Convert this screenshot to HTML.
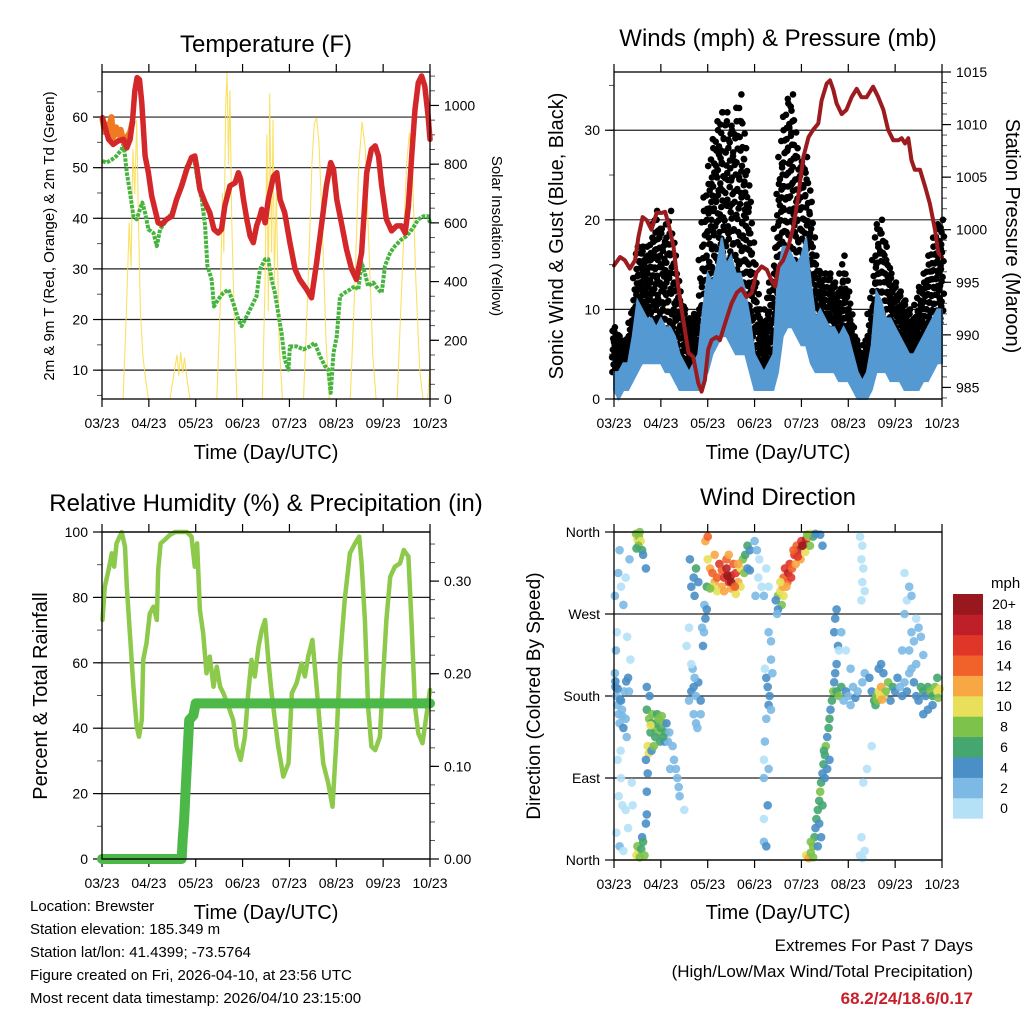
<!DOCTYPE html>
<html><head><meta charset="utf-8"><style>
html,body{margin:0;padding:0;background:#fff;}
svg{display:block;font-family:"Liberation Sans",sans-serif;}
</style></head><body>
<svg id="chart" width="1024" height="1024" viewBox="0 0 1024 1024" xmlns="http://www.w3.org/2000/svg">
<rect width="1024" height="1024" fill="#fff"/>
<text x="266" y="52" font-size="24" text-anchor="middle">Temperature (F)</text>
<text x="778" y="46" font-size="24" text-anchor="middle">Winds (mph) &amp; Pressure (mb)</text>
<text x="266" y="511" font-size="24" text-anchor="middle">Relative Humidity (%) &amp; Precipitation (in)</text>
<text x="778" y="505" font-size="24" text-anchor="middle">Wind Direction</text>
<text transform="translate(54,236) rotate(-90)" font-size="15" text-anchor="middle">2m &amp; 9m T (Red, Orange) &amp; 2m Td (Green)</text>
<text transform="translate(492,236) rotate(90)" font-size="15" text-anchor="middle">Solar Insolation (Yellow)</text>
<text transform="translate(563,236) rotate(-90)" font-size="20" text-anchor="middle">Sonic Wind &amp; Gust (Blue, Black)</text>
<text transform="translate(1006,236) rotate(90)" font-size="20" text-anchor="middle">Station Pressure (Maroon)</text>
<text transform="translate(47,696) rotate(-90)" font-size="20" text-anchor="middle">Percent &amp; Total Rainfall</text>
<text transform="translate(540,696) rotate(-90)" font-size="19" text-anchor="middle">Direction (Colored By Speed)</text>
<text x="266" y="459" font-size="20" text-anchor="middle">Time (Day/UTC)</text>
<text x="778" y="459" font-size="20" text-anchor="middle">Time (Day/UTC)</text>
<text x="266" y="919" font-size="20" text-anchor="middle">Time (Day/UTC)</text>
<text x="778" y="919" font-size="20" text-anchor="middle">Time (Day/UTC)</text>
<g font-size="15">
<text x="30" y="911">Location: Brewster</text>
<text x="30" y="934">Station elevation: 185.349 m</text>
<text x="30" y="957">Station lat/lon: 41.4399; -73.5764</text>
<text x="30" y="980">Figure created on Fri, 2026-04-10, at 23:56 UTC</text>
<text x="30" y="1003">Most recent data timestamp: 2026/04/10 23:15:00</text>
</g>
<g font-size="17" text-anchor="end">
<text x="973" y="951">Extremes For Past 7 Days</text>
<text x="973" y="977">(High/Low/Max Wind/Total Precipitation)</text>
<text x="973" y="1004" fill="#c8202a" font-weight="bold">68.2/24/18.6/0.17</text>
</g>
<text x="991" y="588" font-size="15">mph</text>
</svg>
<script>
// ---------- DATA ----------
const xTickLabels = ["03/23","04/23","05/23","06/23","07/23","08/23","09/23","10/23"];
const tempTimes = [0.01,0.06,0.14,0.24,0.35,0.46,0.53,0.60,0.65,0.70,0.75,0.80,0.85,0.92,0.99,1.06,1.13,1.20,1.27,1.38,1.49,1.59,1.70,1.81,1.91,1.98,2.03,2.09,2.20,2.30,2.39,2.48,2.55,2.62,2.73,2.84,2.91,2.96,3.02,3.09,3.16,3.23,3.30,3.37,3.41,3.48,3.55,3.66,3.73,3.80,3.90,4.01,4.12,4.22,4.37,4.47,4.58,4.69,4.79,4.88,4.94,5.01,5.11,5.22,5.33,5.43,5.54,5.65,5.75,5.83,5.90,5.97,6.07,6.18,6.29,6.39,6.47,6.54,6.61,6.68,6.75,6.82,6.89,6.96,7.00];
const tempRed = [59.9,58.2,55.6,54.6,55.3,55.6,53.9,55.6,59.2,65.1,67.8,67.4,62.8,52.3,49.0,44.4,41.8,39.1,38.8,39.8,40.4,43.7,46.4,49.7,52.0,52.3,49.7,45.7,43.1,41.1,37.8,37.1,37.8,42.4,46.4,47.0,49.0,47.7,43.7,39.8,36.5,35.2,38.5,40.4,41.8,39.1,43.7,48.3,49.0,43.7,41.1,35.2,29.9,27.9,25.9,24.3,31.2,39.1,46.4,51.0,49.7,43.7,39.1,33.8,29.9,27.9,33.2,49.0,53.6,54.3,52.3,46.4,39.8,37.5,38.5,38.5,37.1,42.4,52.3,61.5,66.8,68.1,66.1,60.2,55.6];
const tempOrangeTimes = [0.01,0.06,0.10,0.14,0.20,0.24,0.30,0.35,0.40,0.46,0.53,0.60,0.65];
const tempOrange = [59.5,57.0,58.5,57.5,60.0,56.0,58.0,56.5,57.5,55.0,56.0,57.0,59.0];
const dewTimes = [0.01,0.10,0.21,0.31,0.42,0.46,0.49,0.53,0.60,0.67,0.74,0.81,0.86,0.92,0.99,1.10,1.17,1.24,1.34,1.49,1.59,1.70,1.81,1.91,1.98,2.06,2.13,2.20,2.25,2.34,2.39,2.48,2.59,2.70,2.80,2.91,2.98,3.09,3.19,3.30,3.37,3.48,3.55,3.62,3.69,3.76,3.83,3.90,3.98,4.01,4.15,4.30,4.44,4.54,4.65,4.76,4.83,4.88,4.94,5.01,5.08,5.18,5.29,5.40,5.47,5.54,5.61,5.68,5.79,5.90,5.97,6.04,6.15,6.25,6.39,6.50,6.64,6.75,6.86,6.96,7.00];
const dewVals = [51.3,51.0,51.6,52.3,53.6,54.9,52.3,49.0,45.0,40.4,39.8,41.8,43.1,41.1,37.8,37.1,34.5,37.8,39.1,41.1,43.7,47.0,50.3,51.6,51.0,46.4,43.7,38.5,30.6,27.9,22.6,24.0,25.3,25.9,23.3,20.0,18.7,20.7,22.6,24.6,29.9,31.9,31.9,27.9,25.3,21.3,17.4,12.1,10.1,14.7,14.7,14.1,14.7,15.4,12.8,10.8,10.1,5.5,13.4,16.7,24.6,25.3,25.9,26.6,25.9,31.2,29.2,26.6,27.3,25.9,25.3,30.6,33.2,34.5,35.8,36.5,38.1,39.8,40.4,40.4,39.1];
const solarTimes = [0.00,0.45,0.52,0.58,0.62,0.66,0.70,0.74,0.78,0.82,0.87,0.92,0.99,1.45,1.55,1.60,1.64,1.68,1.72,1.76,1.82,1.88,2.45,2.52,2.57,2.60,2.64,2.67,2.70,2.73,2.77,2.82,2.88,3.42,3.48,3.52,3.55,3.58,3.62,3.65,3.68,3.72,3.78,3.85,4.30,4.40,4.48,4.53,4.58,4.63,4.70,4.78,4.85,5.30,5.40,5.48,5.55,5.62,5.70,5.78,5.85,6.30,6.40,6.50,6.56,6.62,6.70,6.78,6.85,6.95,7.00];
const solarVals = [0,0,300,600,450,850,700,950,600,300,150,80,0,0,100,150,80,160,90,140,60,0,0,300,700,500,1000,1110,800,1050,600,300,0,0,400,900,300,1040,500,950,400,700,200,0,0,400,800,940,957,880,600,200,0,0,400,800,944,850,500,150,0,0,400,800,905,800,400,100,0,0,120];
const pressTimes = [0,0.13,0.23,0.34,0.45,0.52,0.61,0.70,0.80,0.91,1.02,1.09,1.16,1.27,1.37,1.48,1.59,1.69,1.80,1.87,1.94,2.01,2.08,2.19,2.26,2.37,2.51,2.62,2.72,2.83,2.94,3.04,3.15,3.26,3.36,3.44,3.51,3.61,3.72,3.83,3.93,4.04,4.15,4.25,4.36,4.43,4.54,4.61,4.68,4.75,4.86,4.96,5.07,5.18,5.28,5.39,5.53,5.64,5.75,5.85,5.96,6.07,6.14,6.21,6.28,6.35,6.42,6.53,6.64,6.74,6.85,6.92,7.00];
const pressVals = [996.6,997.4,997.1,996.3,997.1,999.3,1001.2,1000.9,1000.0,1001.6,1001.6,1001.7,1000.6,998.4,994.6,991.4,988.3,987.9,985.4,984.6,985.7,988.6,989.5,989.8,989.5,991.1,993.0,994.0,994.4,993.6,994.0,995.9,996.5,996.2,995.2,994.6,996.5,997.1,998.4,1000.3,1003.1,1006.9,1008.8,1009.5,1010.1,1012.3,1013.9,1014.2,1013.3,1012.0,1011.0,1011.4,1012.6,1013.4,1012.6,1012.6,1013.6,1012.6,1011.4,1009.5,1008.5,1008.5,1008.7,1008.2,1008.7,1006.6,1005.7,1005.7,1004.1,1002.5,1000.0,997.8,997.4];
const windMax = [3,3,4,4,7,11,10,9,9,8,9,8,8,7,5,4,3,4,5,10,14,13,15,18,15,16,14,14,12,9,5,4,3,4,5,14,17,17,16,15,16,18,13,9,10,9,8,8,7,8,7,5,3,2,3,6,12,11,9,9,8,7,6,5,5,6,7,8,9,10,10];
const windMin = [1,0,1,1,2,3,4,4,4,4,4,3,3,2,1,1,1,1,1,2,3,5,6,7,7,6,5,5,5,3,1,1,1,1,1,3,7,8,8,7,6,6,4,3,3,3,3,3,2,2,2,1,0,0,0,1,3,3,3,2,2,2,1,1,1,1,2,2,3,4,4];
const gustMax = [8,7,6,7,10,17,17,16,18,21,19,18,21,16,12,10,9,9,10,21,24,28,30,32,32,30,31,34,28,22,15,10,8,12,14,24,30,33,34,28,26,27,22,16,14,14,14,13,12,16,12,8,6,5,7,12,19,20,17,14,13,12,11,10,9,12,13,15,17,19,20];
const gustMin = [3,3,3,3,5,7,8,8,8,8,7,7,6,4,3,2,2,2,2,5,8,12,14,15,14,13,13,15,13,8,3,2,2,3,3,10,15,17,17,14,12,10,8,6,6,5,5,5,4,4,4,2,1,1,1,3,7,6,5,4,4,3,3,2,2,3,4,5,6,8,9];
const rhTimes = [0.01,0.06,0.14,0.21,0.26,0.31,0.42,0.49,0.53,0.60,0.67,0.74,0.79,0.85,0.88,0.95,1.02,1.10,1.17,1.20,1.25,1.34,1.45,1.56,1.66,1.81,1.91,1.98,2.03,2.09,2.16,2.23,2.30,2.38,2.45,2.52,2.59,2.70,2.80,2.87,2.96,3.05,3.12,3.19,3.26,3.34,3.41,3.48,3.55,3.62,3.69,3.76,3.87,3.98,4.05,4.15,4.26,4.33,4.40,4.49,4.58,4.65,4.72,4.83,4.92,5.01,5.08,5.18,5.29,5.40,5.49,5.54,5.61,5.68,5.75,5.83,5.93,6.00,6.07,6.15,6.25,6.36,6.44,6.54,6.61,6.68,6.75,6.84,6.93,7.00];
const rhVals = [73.1,83.3,88.4,93.5,89.4,96.5,100,95.5,83.3,68.0,52.7,40.5,37.4,42.5,60.9,66.0,75.1,77.2,73.1,88.4,96.5,97.6,99.1,100,100,100,98.6,89.4,96.5,76.1,69.0,56.8,61.9,52.7,58.8,52.7,50.7,46.6,42.5,34.4,30.3,37.4,50.7,60.9,55.8,64.9,70.0,73.1,60.9,50.7,42.5,34.4,25.2,29.3,50.7,53.7,59.8,55.8,61.9,67.0,52.7,40.5,29.3,23.1,16.0,38.4,60.9,79.2,93.5,96.5,98.6,90.4,73.1,46.6,34.4,33.3,37.4,55.8,73.1,86.3,89.4,90.4,94.5,92.5,71.1,46.6,38.4,35.4,44.5,51.7];
const rainTimes = [0,1.70,1.72,1.75,1.78,1.82,1.86,1.95,2.00,7.00];
const rainVals = [0,0,0.02,0.04,0.07,0.11,0.15,0.155,0.168,0.168];
const dirTimes = [0.02,0.02,0.03,0.05,0.07,0.1,0.12,0.15,0.17,0.2,0.22,0.25,0.27,0.3,0.32,0.04,0.06,0.09,0.12,0.15,0.2,0.28,0.35,0.08,0.15,0.1,0.18,0.25,0.3,0.05,0.12,0.2,0.33,0.25,0.4,0.03,0.08,0.13,0.18,0.26,0.14,0.38,
0.47,0.5,0.53,0.57,0.52,0.6,0.62,0.68,0.48,0.55,0.48,0.52,0.55,0.5,0.58,0.6,0.65,0.7,0.68,0.62,
0.7,0.75,0.8,0.85,0.9,0.95,1.0,1.05,0.78,0.88,0.98,1.1,0.72,0.74,0.82,0.92,1.02,1.08,0.76,0.7,0.68,0.8,1.12,1.18,1.25,1.28,1.32,1.35,1.38,1.4,1.15,1.2,0.85,0.95,1.05,0.72,0.7,1.5,0.78,
1.6,1.65,1.7,1.75,1.8,1.85,1.7,1.75,1.72,1.68,1.9,1.92,1.95,1.93,1.88,1.98,1.65,1.7,1.75,1.8,1.55,1.6,1.65,1.85,1.78,1.62,1.72,
1.95,2.0,2.0,2.05,2.1,2.15,2.2,2.25,2.3,2.35,2.4,2.45,2.5,2.55,2.6,2.65,2.7,2.75,2.8,2.85,2.9,2.3,2.2,2.4,2.5,2.6,2.45,2.1,2.35,2.55,2.65,2.7,2.78,2.15,2.42,2.5,2.58,1.98,2.05,2.85,2.9,
3.0,3.05,3.1,3.08,3.15,3.2,3.25,3.3,3.02,3.3,3.35,3.35,3.25,3.28,3.32,3.3,3.35,3.25,3.22,3.2,3.2,3.3,3.28,3.2,3.25,3.2,3.38,3.22,
3.5,3.55,3.6,3.62,3.65,3.7,3.72,3.75,3.8,3.85,3.9,3.95,4.0,4.05,4.1,4.15,4.2,3.68,3.78,3.88,3.98,4.08,4.18,4.25,4.3,4.4,4.45,3.58,3.55,3.83,3.92,4.02,4.12,3.45,3.5,3.62,3.48,
4.1,4.15,4.2,4.25,4.28,4.3,4.32,4.35,4.38,4.4,4.42,4.45,4.47,4.5,4.52,4.55,4.58,4.6,4.62,4.65,4.68,4.7,4.72,4.75,4.2,4.25,4.38,4.45,4.5,4.55,4.48,4.6,4.42,4.35,4.7,4.72,4.75,4.78,4.8,
4.75,4.8,4.85,4.9,4.95,5.0,5.05,5.1,5.15,5.2,5.3,5.35,5.45,5.5,5.55,5.6,5.65,5.7,5.75,5.8,5.85,5.9,5.95,6.0,6.05,6.1,6.15,6.2,6.25,6.3,6.35,6.4,6.45,6.5,6.55,6.6,6.65,6.7,6.75,6.8,6.85,6.9,6.95,5.65,5.7,5.75,6.3,6.35,6.4,6.45,6.5,6.55,6.6,6.2,6.25,6.3,6.15,6.45,6.7,6.8,6.6,5.58,5.62,5.68,5.72,4.85,4.95,5.05,6.9,6.92,
5.25,5.3,5.28,5.32,5.3,5.35,5.28,5.25,5.3,5.35,5.28,5.32,5.4,6.2,6.35,5.5];
const dirDegrees = [290,205,190,180,170,160,150,175,165,145,185,155,135,200,185,230,250,315,340,300,280,245,220,110,90,70,60,55,35,30,15,10,330,310,60,196,188,176,158,196,120,85,
358,352,355,350,345,340,335,320,342,360,5,8,3,15,12,25,5,50,40,20,
165,155,150,145,150,140,145,150,140,135,130,140,125,117,160,160,158,130,180,190,110,120,150,140,125,110,100,90,80,70,130,100,125,155,135,95,75,55,148,
175,185,190,180,195,175,160,150,200,210,235,250,265,280,255,275,300,310,320,305,235,255,215,160,145,330,290,
350,355,330,320,315,305,310,325,318,310,320,305,312,300,315,305,320,330,335,345,340,300,295,330,298,292,335,300,295,325,325,300,315,335,312,305,300,300,298,320,318,
350,340,330,310,300,290,320,300,290,250,240,220,200,190,180,170,165,155,130,110,90,100,60,20,15,45,205,210,
290,295,300,310,320,305,315,325,320,335,345,340,350,345,352,355,358,300,310,325,330,338,345,355,358,357,345,280,305,340,333,345,357,285,275,290,270,
5,2,8,15,25,35,45,55,65,75,85,95,105,115,125,135,145,155,165,175,185,195,205,215,20,3,40,60,90,100,120,110,25,15,250,265,275,235,230,
185,180,190,175,185,180,170,190,178,185,195,205,200,185,175,180,185,190,180,185,195,175,190,185,200,190,180,195,185,205,210,195,180,175,190,185,180,190,185,180,190,185,188,210,215,205,230,250,240,265,255,245,225,270,285,300,230,215,165,170,160,170,175,180,176,250,230,210,200,178,
355,345,330,320,305,295,285,5,2,10,25,85,100,315,290,125];
const dirSpeeds = [2,2,4,2,2,2,2,4,2,4,2,2,2,4,2,2,0,2,2,0,2,0,0,0,0,0,0,0,0,0,2,0,2,0,0,4,4,4,2,4,0,0,
8,10,8,10,8,6,4,4,6,8,10,10,8,8,6,4,8,4,4,6,
6,8,6,8,6,8,6,8,6,6,6,6,10,10,8,6,8,4,4,4,4,4,4,2,2,2,2,2,2,2,2,2,8,8,6,4,4,0,10,
2,4,4,2,4,4,2,2,2,2,4,2,4,2,2,4,4,4,6,4,0,0,0,2,2,4,4,
12,14,10,12,14,12,14,16,14,16,18,16,18,14,16,12,10,8,6,6,4,12,10,14,12,10,12,10,12,14,12,10,8,12,20,20,14,6,8,4,4,
2,2,0,0,0,2,0,0,2,2,2,2,4,4,4,4,2,2,2,0,2,2,4,2,4,0,2,0,
8,10,12,14,16,14,18,16,14,16,14,18,16,14,18,12,10,12,16,12,12,10,8,6,4,4,4,8,10,14,16,20,8,4,4,10,2,
10,12,8,8,6,4,6,6,6,8,6,4,6,6,8,4,6,6,4,6,8,4,4,4,8,8,4,6,4,4,6,4,4,4,4,4,4,4,0,
6,8,6,2,4,2,2,2,4,2,2,2,4,4,6,8,10,12,10,8,8,4,6,4,4,2,4,2,4,2,2,4,4,4,6,6,4,6,8,6,8,10,10,4,4,4,2,2,2,0,2,2,2,2,0,2,2,2,4,4,4,6,8,10,12,2,0,2,6,8,
0,0,0,0,0,0,0,0,0,0,0,0,0,0,2,0];
const speedLabels = ["0","2","4","6","8","10","12","14","16","18","20+"];
const speedColors = ["#b5e1f7","#7cb9e5","#4a8fc6","#45a66f","#7dc24b","#e8e05a","#f7a744","#f0622a","#e0362a","#bf1f29","#98181d"];

// ---------- DRAWING ----------
const NS = "http://www.w3.org/2000/svg";
const svg = document.getElementById("chart");
function mk(tag, attrs, parent){
  const e = document.createElementNS(NS, tag);
  for (const k in attrs) e.setAttribute(k, attrs[k]);
  (parent || svg).appendChild(e);
  return e;
}
function lin(d0,d1,r0,r1){ return v => r0 + (v-d0)/(d1-d0)*(r1-r0); }

const P1 = {x0:102,x1:430,y0:72,y1:399};
const P2 = {x0:614,x1:942,y0:72,y1:399};
const P3 = {x0:102,x1:430,y0:532,y1:859};
const P4 = {x0:614,x1:942,y0:532,y1:860};

function xScale(p){ return lin(0,7,p.x0,p.x1); }

function polyline(xs, ys, xf, yf, style, name, parent){
  const pts = xs.map((t,i)=> xf(t).toFixed(1)+","+yf(ys[i]).toFixed(1)).join(" ");
  const el = mk("polyline", Object.assign({points:pts, fill:"none", "stroke-linejoin":"round","stroke-linecap":"round"}, style), parent);
  
  
  return el;
}

function axisFrame(p, name){
  const g = mk("g", {});
  
  
  const xf = xScale(p);
  xTickLabels.forEach((lab,i)=>{
    const x = xf(i);
    mk("line",{x1:x,x2:x,y1:p.y1,y2:p.y1+8,stroke:"#000","stroke-width":1.2},g);
    mk("line",{x1:x,x2:x,y1:p.y0,y2:p.y0-8,stroke:"#000","stroke-width":1.2},g);
    const t = mk("text",{x:x,y:p.y1+29,"font-size":14,"text-anchor":"middle"},g);
    t.textContent = lab;
    
    
  });
  return g;
}
function frameRect(p, g){
  mk("rect",{x:p.x0,y:p.y0,width:p.x1-p.x0,height:p.y1-p.y0,fill:"none",stroke:"#000","stroke-width":1.3},g);
}
function yAxis(p, scale, majors, minors, labels, side, g, grid){
  const x = side==="left" ? p.x0 : p.x1;
  const dir = side==="left" ? -1 : 1;
  minors.forEach(v=>{
    const y = scale(v);
    mk("line",{x1:x,x2:x+dir*5,y1:y,y2:y,stroke:"#555","stroke-width":1},g);
  });
  majors.forEach((v,i)=>{
    const y = scale(v);
    mk("line",{x1:x,x2:x+dir*9,y1:y,y2:y,stroke:"#000","stroke-width":1.2},g);
    if (grid) mk("line",{x1:p.x0,x2:p.x1,y1:y,y2:y,stroke:"#222","stroke-width":1.2},g);
    const t = mk("text",{x: side==="left"? x-14 : x+14, y:y+5,"font-size":14,"text-anchor": side==="left"?"end":"start"},g);
    t.textContent = labels[i];
    
    
  });
}
function range(a,b,s){ const r=[]; for(let v=a; v<=b+1e-9; v+=s) r.push(+v.toFixed(4)); return r; }

// ===== Panel 1: Temperature =====
(function(){
  const p=P1, xf=xScale(p);
  const yT = lin(4.3,68.9,p.y1,p.y0);
  const yS = lin(0,1114,p.y1,p.y0);
  const g = axisFrame(p,"temperature-panel");
  const maj=[10,20,30,40,50,60];
  yAxis(p,yT,maj,range(5,65,5),maj.map(String),"left",g,true);
  const smaj=[0,200,400,600,800,1000];
  yAxis(p,yS,smaj,range(0,1100,50),smaj.map(String),"right",g,false);
  polyline(solarTimes,solarVals,xf,yS,{stroke:"#f9dc4a","stroke-width":1.1,"stroke-opacity":0.85},"solar-insolation-line",g);
  polyline(dewTimes,dewVals,xf,yT,{stroke:"#48b440","stroke-width":4,"stroke-dasharray":"3.5,1.2","stroke-linecap":"butt"},"dewpoint-line",g);
  polyline(tempOrangeTimes,tempOrange,xf,yT,{stroke:"#f07a22","stroke-width":6},"temp-9m-line",g);
  polyline(tempTimes,tempRed,xf,yT,{stroke:"#d4272a","stroke-width":5.5},"temp-2m-line",g);
  frameRect(p,g);
})();

// ===== Panel 2: Winds & Pressure =====
(function(){
  const p=P2, xf=xScale(p);
  const yW = lin(0,36.5,p.y1,p.y0);
  const yP = lin(983.9,1015,p.y1,p.y0);
  const g = axisFrame(p,"winds-panel");
  const maj=[0,10,20,30];
  yAxis(p,yW,maj,range(0,35,5),maj.map(String),"left",g,true);
  const pmaj=[985,990,995,1000,1005,1010,1015];
  yAxis(p,yP,pmaj,range(984,1015,1),pmaj.map(String),"right",g,false);
  const wt = windMax.map((_,i)=>i/10);
  const fr = [0,0.08,0.17,0.25,0.33,0.42,0.5,0.58,0.67,0.75,0.83,0.92,1];
  const jx = [-1.6,1.2,-0.4,1.8,-1.9,0.6,-1.1,1.5,0,-0.8,1.9,-1.4,0.9];
  wt.forEach((t,i)=>{
    fr.forEach((f,k)=>{
      for (let s=0; s<2; s++){
        if (s===1 && i+1>=wt.length) continue;
        const lo = s ? (gustMin[i]+gustMin[i+1])/2 : gustMin[i];
        const hi = s ? (gustMax[i]+gustMax[i+1])/2 : gustMax[i];
        const c = mk("circle",{cx:(xf(t+s*0.05)+jx[(k+s*5)%13]).toFixed(1),cy:yW(lo+(hi-lo)*f).toFixed(1),r:3.3,fill:"#000"},g);
        
        
      }
    });
  });
  const wpts = wt.map((t,i)=>xf(t).toFixed(1)+","+yW(windMax[i]).toFixed(1)).concat(wt.map((t,i)=>xf(t).toFixed(1)+","+yW(windMin[i]).toFixed(1)).reverse()).join(" ");
  const wb = mk("polygon",{points:wpts,fill:"#5599d3",stroke:"#5599d3","stroke-width":2},g);
  
  
  polyline(pressTimes,pressVals,xf,yP,{stroke:"#9b1b1e","stroke-width":4},"pressure-line",g);
  frameRect(p,g);
})();

// ===== Panel 3: RH & Precip =====
(function(){
  const p=P3, xf=xScale(p);
  const yR = lin(0,100,p.y1,p.y0);
  const yP = lin(0,0.353,p.y1,p.y0);
  const g = axisFrame(p,"humidity-panel");
  const maj=[0,20,40,60,80,100];
  yAxis(p,yR,maj,range(0,100,10),maj.map(String),"left",g,true);
  const rmaj=[0,0.1,0.2,0.3];
  yAxis(p,yP,rmaj,range(0,0.34,0.02),["0.00","0.10","0.20","0.30"],"right",g,false);
  polyline(rhTimes,rhVals,xf,yR,{stroke:"#8dc94a","stroke-width":4.5},"relative-humidity-line",g);
  polyline(rainTimes,rainVals,xf,yP,{stroke:"#4cb848","stroke-width":10},"precipitation-line",g);
  frameRect(p,g);
})();

// ===== Panel 4: Wind direction =====
(function(){
  const p=P4, xf=xScale(p);
  const yD = lin(0,360,p.y1,p.y0);
  const g = axisFrame(p,"wind-direction-panel");
  const maj=[0,90,180,270,360];
  yAxis(p,yD,maj,[],["North","East","South","West","North"],"left",g,true);
  dirTimes.forEach((t,i)=>{
    const bin = Math.min(10, Math.floor(dirSpeeds[i]/2));
    const c = mk("circle",{cx:xf(t).toFixed(1),cy:yD(dirDegrees[i]).toFixed(1),r:4.3,fill:speedColors[bin],"fill-opacity":0.9},g);
    
    
  });
  frameRect(p,g);
  const cb = mk("g",{});
  
  
  const top=594, h=20.4;
  speedLabels.forEach((lab,i)=>{
    const k = speedLabels.length-1-i;
    const r = mk("rect",{x:953,y:top+k*h,width:30,height:h+0.3,fill:speedColors[i]},cb);
    
    
    const t = mk("text",{x:1004,y:top+k*h+h/2+5,"font-size":14,"text-anchor":"middle"},cb);
    t.textContent = lab;
    
    
  });
})();
</script>
</body></html>
